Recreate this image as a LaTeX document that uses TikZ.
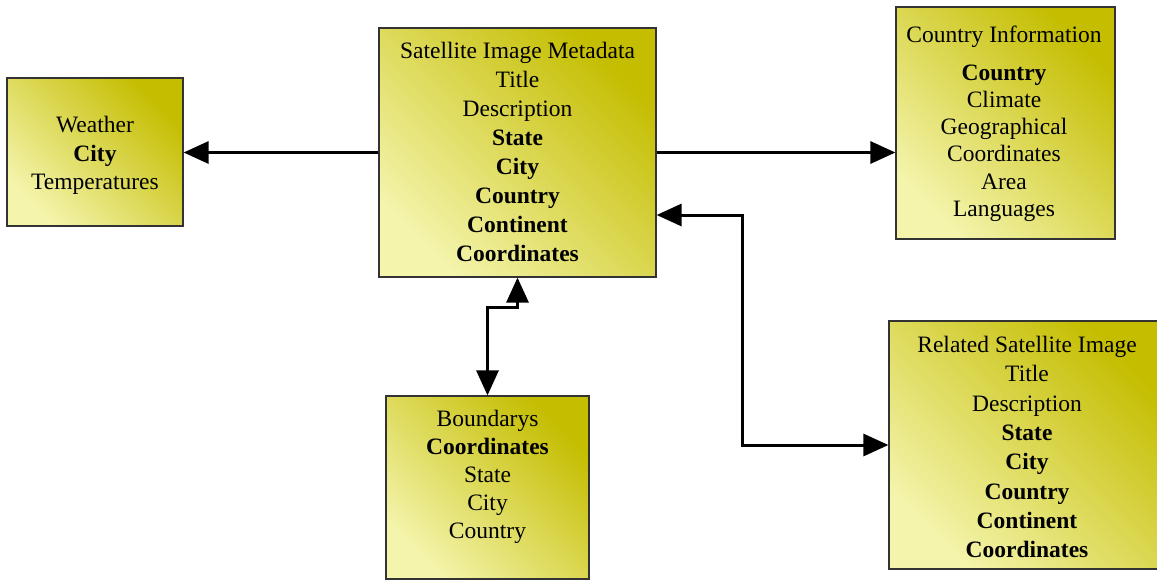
\documentclass[tikz,border=0pt]{standalone}
\usepackage{fontspec}
\setmainfont{Liberation Serif}
\usetikzlibrary{arrows.meta}

\definecolor{olivedark}{RGB}{196,189,0}
\definecolor{olivelight}{RGB}{244,244,172}

\tikzset{
  box/.style={draw=black!80, line width=1.2pt, rectangle, inner sep=0pt,
              top color=olivedark, bottom color=olivelight, shading angle=-45},
  lbl/.style={inner sep=0pt, align=center, anchor=north,
              font=\fontsize{23.5}{29}\selectfont},
  conn/.style={line width=3pt, -{Triangle[length=25pt,width=22pt]}},
  biconn/.style={line width=3pt, {Triangle[length=25pt,width=22pt]}-{Triangle[length=25pt,width=22pt]}}
}

\begin{document}
\begin{tikzpicture}[x=1pt, y=-1pt]
  \useasboundingbox (0,0) rectangle (1157,581);

  % entity boxes
  \node[box, minimum width=176pt, minimum height=148pt] (weather) at (95,152) {};
  \node[box, minimum width=277pt, minimum height=249pt] (sat) at (517.5,152.5) {};
  \node[box, minimum width=219pt, minimum height=232pt] (country) at (1005.5,123) {};
  \node[box, minimum width=276pt, minimum height=248pt] (related) at (1027,445) {};
  \node[box, minimum width=203pt, minimum height=183pt] (bnd) at (487.5,487.5) {};

  % field lists
  \node[lbl, font=\fontsize{23.5}{28.5}\selectfont] (weatherText) at (95,116)
    {Weather\\\textbf{City}\\Temperatures};
  \node[lbl] (satText) at (517.5,42)
    {Satellite Image Metadata\\Title\\Description\\\textbf{State}\\\textbf{City}\\
     \textbf{Country}\\\textbf{Continent}\\\textbf{Coordinates}};
  \node[lbl, font=\fontsize{23.5}{27.3}\selectfont] (countryText) at (1004,26)
    {Country Information\\[10pt]\textbf{Country}\\Climate\\Geographical\\Coordinates\\Area\\Languages};
  \node[lbl, font=\fontsize{23.5}{29.3}\selectfont] (relatedText) at (1027,336)
    {Related Satellite Image\\Title\\Description\\\textbf{State}\\\textbf{City}\\
     \textbf{Country}\\\textbf{Continent}\\\textbf{Coordinates}};
  \node[lbl, font=\fontsize{23.5}{28}\selectfont] (bndText) at (487.5,410)
    {Boundarys\\\textbf{Coordinates}\\State\\City\\Country};

  % connectors
  \draw[conn] (sat.west) -- (sat.west -| weather.east);
  \draw[conn] (sat.east) -- (sat.east -| country.west);

  \coordinate (relElbow) at (742,215);
  \draw[biconn] (sat.east |- relElbow) -- (relElbow) |- (related.west);

  \coordinate (bndElbow) at (487.5,307);
  \draw[biconn] (sat.south) |- (bndElbow) -- (bnd.north);
\end{tikzpicture}
\end{document}
